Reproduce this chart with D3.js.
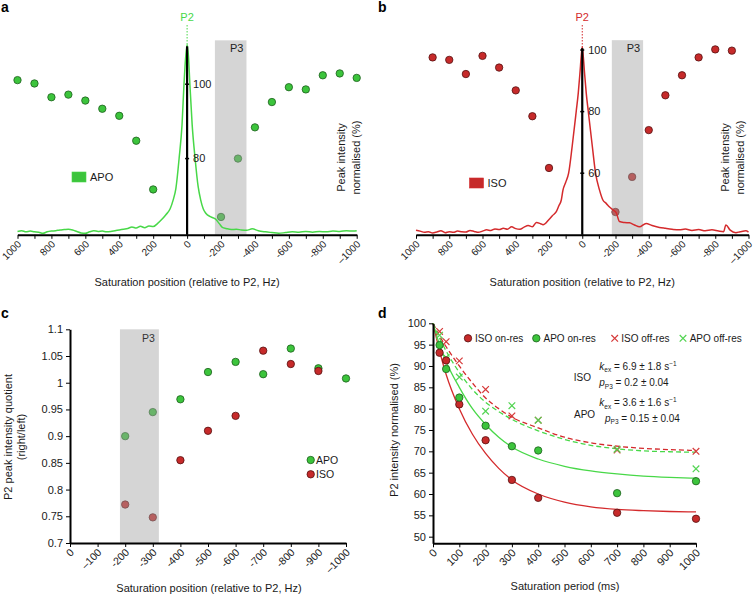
<!DOCTYPE html>
<html><head><meta charset="utf-8">
<script src="https://cdn.jsdelivr.net/npm/d3@7/dist/d3.min.js"></script>
<style>
body{margin:0;background:#fff}
svg{display:block;font-family:"Liberation Sans",Arial,Helvetica,sans-serif}
</style></head><body>
<svg id="chart" width="754" height="595"></svg>
<script>
// ---------------- DATA ----------------
// Panel a (APO): saturation offsets and normalised peak intensity
const dotHzA = [1000,900,800,700,600,500,400,300,200,-200,-300,-400,-500,-600,-700,-800,-900,-1000];
const dotValA = [101.1,100.2,96.5,97.2,95.6,93.4,91.5,84.8,71.7,64.3,80.0,88.4,95.2,99.2,98.6,102.4,102.9,101.7];
// Panel a spectrum trace (Hz, drawn on same axis units)
const specHzA = [1000,975,950,925,900,875,850,825,800,775,750,725,700,675,650,625,600,575,550,525,500,475,450,425,400,375,350,325,300,275,250,225,200,175,150,125,100,82,66,47,30,18,8,0,-8,-16,-30,-47,-65,-80,-95,-110,-140,-168,-190,-208,-230,-260,-290,-320,-350,-384,-420,-462,-500,-540,-580,-620,-660,-700,-740,-780,-820,-860,-900,-940,-980,-1000];
const specValA = [60.4,60.6,60.3,60.5,60.3,60.2,59.9,60.3,60.5,60.6,60.8,60.9,61.0,60.8,60.4,60.0,59.9,60.3,60.6,60.4,60.5,60.3,60.4,60.6,60.8,61.0,61.2,61.6,61.3,61.8,61.4,61.9,61.7,62.5,63.6,64.9,66.5,68.9,72.0,80.1,89.0,100.3,107.5,110.6,107.5,100.3,89.0,80.1,72.5,68.9,66.5,65.3,64.3,63.7,62.5,61.5,61.2,60.9,61.0,60.8,60.7,61.1,60.6,60.3,60.1,59.9,60.1,60.3,60.2,60.4,60.2,60.4,60.3,60.5,60.4,60.6,60.5,60.6];
const yTicksA = [100,80];

// Panel b (ISO)
const dotHzB = [900,800,700,600,500,400,300,200,-200,-300,-400,-500,-600,-700,-800,-900];
const dotValB = [97.6,96.8,92.2,98.1,94.3,86.9,78.5,61.7,47.4,58.8,74.0,85.3,91.8,97.6,100.2,99.8];
const specHzB = [1000,975,950,925,900,875,850,825,800,775,750,725,700,675,650,625,600,575,550,525,500,475,450,425,400,375,350,325,300,276,250,236,200,180,156,140,126,116,100,82,60,36,24,14,6,0,-6,-14,-24,-36,-60,-80,-104,-124,-144,-164,-184,-204,-224,-254,-284,-314,-344,-384,-420,-464,-500,-540,-584,-620,-660,-700,-740,-780,-820,-850,-864,-890,-924,-950,-984,-1000];
const specValB = [41.5,41.2,40.8,41.0,40.6,40.9,41.3,40.7,41.0,40.8,41.2,41.0,40.9,41.4,41.1,40.8,41.2,41.6,41.4,41.9,41.7,42.1,41.8,42.6,42.0,41.8,42.5,43.0,42.6,44.0,43.6,43.3,45.0,46.2,47.5,49.5,51.3,54.5,57.0,60.0,69.0,80.2,86.0,92.4,98.0,101.0,98.0,92.4,86.0,80.2,69.0,60.0,54.5,51.3,50.2,49.0,48.1,47.2,44.3,44.0,43.9,43.2,42.6,43.7,43.0,42.4,42.1,41.8,41.6,41.9,41.4,41.7,41.3,41.6,41.2,41.0,43.2,41.5,40.7,41.0,41.3,40.9];
const yTicksB = [100,80,60];

const xTicksAB = [1000,900,800,700,600,500,400,300,200,100,0,-100,-200,-300,-400,-500,-600,-700,-800,-900,-1000];
const xLabelValsAB = [1000,800,600,400,200,0,-200,-400,-600,-800,-1000];
const xLabelsAB = ["1000","800","600","400","200","0","-200","-400","-600","-800","\u20131000"];

// Panel c: quotient right/left
const hzC = [-200,-300,-400,-500,-600,-700,-800,-900,-1000];
const apoC = [0.900,0.945,0.969,1.020,1.039,1.016,1.064,1.027,1.008];
const hzCiso = [-200,-300,-400,-500,-600,-700,-800,-900];
const isoC = [0.772,0.748,0.855,0.910,0.938,1.060,1.035,1.022];
const xTicksC = [0,-100,-200,-300,-400,-500,-600,-700,-800,-900,-1000];
const xLabelsC = ["0","\u2013100","-200","-300","-400","-500","-600","-700","-800","-900","\u20131000"];
const yTicksC = [0.7,0.75,0.8,0.85,0.9,0.95,1,1.05,1.1];
const yLabelsC = ["0.7","0.75","0.8","0.85","0.9","0.95","1","1.05","1.1"];

// Panel d: saturation period series
const tOn = [25,50,100,200,300,400,700,1000];
const isoOn = [93.1,91.3,81.0,72.6,63.3,59.1,55.6,54.2];
const apoOn = [94.9,89.3,82.6,76.0,71.2,70.2,60.2,63.0];
const isoOff = [98.1,95.7,91.2,84.5,78.3,77.3,70.3,70.0];
const apoOff = [97.2,92.0,87.4,79.4,80.7,77.3,70.5,65.9];
const tFit = [0,25,50,100,150,200,250,300,400,500,600,700,800,900,1000];
const isoOnFit = [100,93.5,88.0,80.0,74.0,69.5,66.0,63.3,60.0,58.1,57.0,56.4,56.1,55.9,55.8];
const apoOnFit = [100,95.0,91.0,85.0,80.0,76.3,73.3,71.0,68.2,66.5,65.4,64.7,64.2,63.9,63.7];
const isoOffFit = [100,97.0,94.5,90.0,86.0,82.5,80.0,78.0,75.5,73.3,72.0,71.2,70.7,70.4,70.2];
const apoOffFit = [100,96.5,93.5,88.5,84.5,81.5,79.3,77.5,74.8,72.8,71.4,70.6,70.1,69.9,69.8];
const xTicksD = [0,100,200,300,400,500,600,700,800,900,1000];
const xLabelsD = ["0","100","200","300","400","500","600","700","800","900","1000"];
const yTicksD = [50,55,60,65,70,75,80,85,90,95,100];
const yLabelsD = ["50","55","60","65","70","75","80","85","90","95","100"];

// ---------------- STYLE ----------------
const GREEN = "#3cc43c", GREEN_S = "#1d5e1d";
const RED = "#c62a2a", RED_S = "#561010";
const LINE_G = "#48d848", LINE_R = "#d42a2c";
const BAND = "#a2a2a2", BAND_OP = 0.45;
const TICK_FS = "11px";
const svg = d3.select("#chart");

function styleAxis(g, fs) {
  g.select(".domain").attr("stroke", "#000").attr("stroke-width", 2);
  g.selectAll(".tick line").attr("stroke", "#000").attr("stroke-width", 1);
  g.selectAll(".tick text").attr("fill", "#1a1a1a").style("font-size", fs || TICK_FS);
}
function rotateLabels(g) {
  g.selectAll(".tick text")
    .attr("x", 0).attr("y", 0).attr("dy", "0.35em")
    .attr("transform", "translate(1.5,7.5) rotate(-45)")
    .style("text-anchor", "end");
}
function yTitle(lines, cx, cy, gap) {
  lines.forEach((t, i) => {
    svg.append("text")
      .attr("transform", `translate(${cx + i * gap},${cy}) rotate(-90)`)
      .attr("text-anchor", "middle").attr("dy", "0.35em")
      .style("font-size", "11px").attr("fill", "#1a1a1a").text(t);
  });
}
function panelLetter(t, x, y) {
  svg.append("text").attr("x", x).attr("y", y).style("font-size", "14px")
    .style("font-weight", "bold").attr("fill", "#000").text(t);
}

// ---------------- PANELS a & b ----------------
function spectrumPanel(o) {
  const x = d3.scaleLinear().domain([1000, -1000]).range(o.xr);
  const y = d3.scaleLinear().domain(o.yd).range(o.yr);
  const g = svg.append("g");
  const x0 = x(0);
  g.selectAll("circle.d").data(o.dotHz).join("circle")
    .attr("cx", d => x(d)).attr("cy", (d, i) => y(o.dotVal[i])).attr("r", 3.7)
    .attr("fill", o.fill).attr("stroke", o.stroke).attr("stroke-width", 0.8);
  g.append("rect").attr("x", x(o.band[0])).attr("width", x(o.band[1]) - x(o.band[0]))
    .attr("y", y(o.bandTop)).attr("height", y(o.yd[0]) - y(o.bandTop))
    .attr("fill", BAND).attr("opacity", BAND_OP);
  g.append("text").attr("x", x(o.band[1]) - 3).attr("y", y(o.bandTop) + 12)
    .attr("text-anchor", "end").style("font-size", "11px").attr("fill", "#222").text("P3");
  const line = d3.line().x((d, i) => x(o.specHz[i])).y((d, i) => y(o.specVal[i])).curve(d3.curveMonotoneX);
  g.append("path").datum(o.specVal).attr("d", line).attr("fill", "none")
    .attr("stroke", o.line).attr("stroke-width", 1.5);
  g.append("line").attr("x1", x0).attr("x2", x0).attr("y1", y(o.yd[0])).attr("y2", y(o.axisTop))
    .attr("stroke", "#000").attr("stroke-width", 2.2);
  o.yTicks.forEach(t => {
    g.append("line").attr("x1", x0 - 2).attr("x2", x0 + 2).attr("y1", y(t)).attr("y2", y(t))
      .attr("stroke", "#000").attr("stroke-width", 1.5);
    g.append("text").attr("x", x0 + 6).attr("y", y(t)).attr("dy", "0.35em")
      .style("font-size", TICK_FS).attr("fill", "#1a1a1a").text(t);
  });
  g.append("line").attr("x1", x0).attr("x2", x0).attr("y1", o.p2y + 4).attr("y2", y(o.axisTop) - 1)
    .attr("stroke", o.line).attr("stroke-width", 1).attr("stroke-dasharray", "1.5,1.5");
  g.append("text").attr("x", x0).attr("y", o.p2y).attr("text-anchor", "middle")
    .style("font-size", "11px").attr("fill", o.line).text("P2");
  const ax = g.append("g").attr("transform", `translate(0,${y(o.yd[0])})`)
    .call(d3.axisBottom(x).tickValues(xTicksAB).tickSize(4).tickSizeOuter(0)
      .tickFormat(d => { const k = xLabelValsAB.indexOf(d); return k >= 0 ? xLabelsAB[k] : ""; }));
  styleAxis(ax, "10px"); rotateLabels(ax);
  g.append("rect").attr("x", o.leg[0]).attr("y", o.leg[1]).attr("width", 14).attr("height", 10)
    .attr("fill", o.fill).attr("stroke", o.line).attr("stroke-width", 0.6);
  g.append("text").attr("x", o.leg[0] + 18).attr("y", o.leg[1] + 5).attr("dy", "0.35em")
    .style("font-size", "11px").attr("fill", "#1a1a1a").text(o.name);
  g.append("text").attr("x", x0).attr("y", 286).attr("text-anchor", "middle")
    .style("font-size", "11px").attr("fill", "#1a1a1a").text("Saturation position (relative to P2, Hz)");
  yTitle(["Peak intensity", "normalised (%)"], o.yt, 157.5, 15);
}

spectrumPanel({
  xr: [17.5, 356.7], yd: [59.5, 110.6], yr: [234.8, 44.8], dotHz: dotHzA, dotVal: dotValA,
  specHz: specHzA, specVal: specValA, yTicks: yTicksA, band: [-164, -350], bandTop: 111.8,
  axisTop: 110.2, p2y: 21, fill: GREEN, stroke: GREEN_S, line: LINE_G,
  leg: [72, 172], name: "APO", yt: 341.5
});
spectrumPanel({
  xr: [416, 748.5], yd: [40, 101.5], yr: [234.8, 45.4], dotHz: dotHzB, dotVal: dotValB,
  specHz: specHzB, specVal: specValB, yTicks: yTicksB, band: [-178, -366], bandTop: 103.2,
  axisTop: 100.6, p2y: 21, fill: RED, stroke: RED_S, line: LINE_R,
  leg: [469.5, 178], name: "ISO", yt: 725
});
panelLetter("a", 1, 12);
panelLetter("b", 378, 12);

// ---------------- PANEL c ----------------
(function () {
  const x = d3.scaleLinear().domain([0, -1000]).range([70, 346]);
  const y = d3.scaleLinear().domain([0.7, 1.1]).range([543, 329.3]);
  const g = svg.append("g");
  g.selectAll("circle.a").data(hzC).join("circle")
    .attr("cx", d => x(d)).attr("cy", (d, i) => y(apoC[i])).attr("r", 3.7)
    .attr("fill", GREEN).attr("stroke", GREEN_S).attr("stroke-width", 0.8);
  g.selectAll("circle.i").data(hzCiso).join("circle")
    .attr("cx", d => x(d)).attr("cy", (d, i) => y(isoC[i])).attr("r", 3.7)
    .attr("fill", RED).attr("stroke", RED_S).attr("stroke-width", 0.8);
  g.append("rect").attr("x", x(-181)).attr("width", x(-322) - x(-181))
    .attr("y", y(1.1)).attr("height", y(0.7) - y(1.1)).attr("fill", BAND).attr("opacity", BAND_OP);
  g.append("text").attr("x", x(-322) - 4).attr("y", y(1.1) + 13).attr("text-anchor", "end")
    .style("font-size", "10.5px").attr("fill", "#333").text("P3");
  const ay = g.append("g").attr("transform", "translate(70,0)")
    .call(d3.axisLeft(y).tickValues(yTicksC).tickSize(4).tickSizeOuter(0)
      .tickFormat((d, i) => yLabelsC[i]));
  styleAxis(ay);
  const ax = g.append("g").attr("transform", "translate(0,543)")
    .call(d3.axisBottom(x).tickValues(xTicksC).tickSize(4).tickSizeOuter(0)
      .tickFormat((d, i) => xLabelsC[i]));
  styleAxis(ax, "10.5px"); rotateLabels(ax);
  [[GREEN, GREEN_S, "APO", 460], [RED, RED_S, "ISO", 474.3]].forEach(l => {
    g.append("circle").attr("cx", 310.7).attr("cy", l[3]).attr("r", 3.7)
      .attr("fill", l[0]).attr("stroke", l[1]).attr("stroke-width", 0.8);
    g.append("text").attr("x", 316).attr("y", l[3]).attr("dy", "0.35em")
      .style("font-size", "10.5px").attr("fill", "#1a1a1a").text(l[2]);
  });
  g.append("text").attr("x", 209).attr("y", 592).attr("text-anchor", "middle")
    .style("font-size", "11px").attr("fill", "#1a1a1a").text("Saturation position (relative to P2, Hz)");
  yTitle(["P2 peak intensity quotient", "(right/left)"], 8, 437, 13.5);
  panelLetter("c", 1, 318);
})();

// ---------------- PANEL d ----------------
(function () {
  const x = d3.scaleLinear().domain([0, 1000]).range([433, 696]);
  const y = d3.scaleLinear().domain([48.45, 100]).range([543.3, 323.3]);
  const g = svg.append("g");
  const fit = (arr) => d3.line().x((d, i) => x(tFit[i])).y(d => y(d)).curve(d3.curveMonotoneX)(arr);
  g.append("path").attr("d", fit(isoOffFit)).attr("fill", "none").attr("stroke", LINE_R)
    .attr("stroke-width", 1.3).attr("stroke-dasharray", "5,3");
  g.append("path").attr("d", fit(apoOffFit)).attr("fill", "none").attr("stroke", LINE_G)
    .attr("stroke-width", 1.3).attr("stroke-dasharray", "5,3");
  g.append("path").attr("d", fit(isoOnFit)).attr("fill", "none").attr("stroke", LINE_R).attr("stroke-width", 1.3);
  g.append("path").attr("d", fit(apoOnFit)).attr("fill", "none").attr("stroke", LINE_G).attr("stroke-width", 1.3);
  const cross = (sel, col) => sel.attr("d", "M-3.3,-3.3L3.3,3.3M-3.3,3.3L3.3,-3.3")
    .attr("stroke", col).attr("stroke-width", 1.2).attr("fill", "none");
  g.selectAll("path.xi").data(tOn).join("path").attr("class", "xi")
    .attr("transform", (d, i) => `translate(${x(d)},${y(isoOff[i])})`).call(cross, "#d63a3a");
  g.selectAll("path.xa").data(tOn).join("path").attr("class", "xa")
    .attr("transform", (d, i) => `translate(${x(d)},${y(apoOff[i])})`).call(cross, "#52d452");
  g.selectAll("circle.i").data(tOn).join("circle")
    .attr("cx", d => x(d)).attr("cy", (d, i) => y(isoOn[i])).attr("r", 3.7)
    .attr("fill", RED).attr("stroke", RED_S).attr("stroke-width", 0.8);
  g.selectAll("circle.a").data(tOn).join("circle")
    .attr("cx", d => x(d)).attr("cy", (d, i) => y(apoOn[i])).attr("r", 3.7)
    .attr("fill", GREEN).attr("stroke", GREEN_S).attr("stroke-width", 0.8);
  const ay = g.append("g").attr("transform", "translate(433,0)")
    .call(d3.axisLeft(y).tickValues(yTicksD).tickSize(4).tickSizeOuter(0)
      .tickFormat((d, i) => yLabelsD[i]));
  styleAxis(ay);
  const ax = g.append("g").attr("transform", "translate(0,543.3)")
    .call(d3.axisBottom(x).tickValues(xTicksD).tickSize(4).tickSizeOuter(0)
      .tickFormat((d, i) => xLabelsD[i]));
  styleAxis(ax); rotateLabels(ax);
  const ly = 338.3;
  g.append("circle").attr("cx", 468).attr("cy", ly).attr("r", 3.7).attr("fill", RED).attr("stroke", RED_S).attr("stroke-width", 0.8);
  g.append("circle").attr("cx", 536.3).attr("cy", ly).attr("r", 3.7).attr("fill", GREEN).attr("stroke", GREEN_S).attr("stroke-width", 0.8);
  g.append("path").attr("transform", `translate(614.7,${ly})`).call(cross, "#d63a3a");
  g.append("path").attr("transform", `translate(683,${ly})`).call(cross, "#52d452");
  [["ISO on-res", 475], ["APO on-res", 543.5], ["ISO off-res", 621.3], ["APO off-res", 689.7]].forEach(l => {
    g.append("text").attr("x", l[1]).attr("y", ly).attr("dy", "0.35em")
      .style("font-size", "10px").attr("fill", "#1a1a1a").text(l[0]);
  });
  function ann(sym, sub, rest, xx, yy) {
    const t = g.append("text").attr("x", xx).attr("y", yy).attr("dy", "0.35em")
      .style("font-size", "10px").attr("fill", "#1a1a1a");
    t.append("tspan").style("font-style", "italic").text(sym);
    t.append("tspan").attr("dy", 2.5).style("font-size", "6.5px").text(sub);
    t.append("tspan").attr("dy", -2.5).text(rest[0]);
    if (rest[1]) t.append("tspan").attr("dy", -4).style("font-size", "6.5px").text(rest[1]);
  }
  g.append("text").attr("x", 573.7).attr("y", 377.7).attr("dy", "0.35em").style("font-size", "10px").attr("fill", "#1a1a1a").text("ISO");
  ann("k", "ex", [" = 6.9 \u00b1 1.8 s", "\u22121"], 599.3, 366);
  ann("p", "P3", [" = 0.2 \u00b1 0.04"], 599.3, 382.7);
  g.append("text").attr("x", 574).attr("y", 414.3).attr("dy", "0.35em").style("font-size", "10px").attr("fill", "#1a1a1a").text("APO");
  ann("k", "ex", [" = 3.6 \u00b1 1.6 s", "\u22121"], 599.3, 402.7);
  ann("p", "P3", [" = 0.15 \u00b1 0.04"], 605, 418.3);
  g.append("text").attr("x", 565).attr("y", 590).attr("text-anchor", "middle")
    .style("font-size", "11px").attr("fill", "#1a1a1a").text("Saturation period (ms)");
  yTitle(["P2 intensity normalised (%)"], 393.7, 430, 0);
  panelLetter("d", 378, 318);
})();
</script>
</body></html>
